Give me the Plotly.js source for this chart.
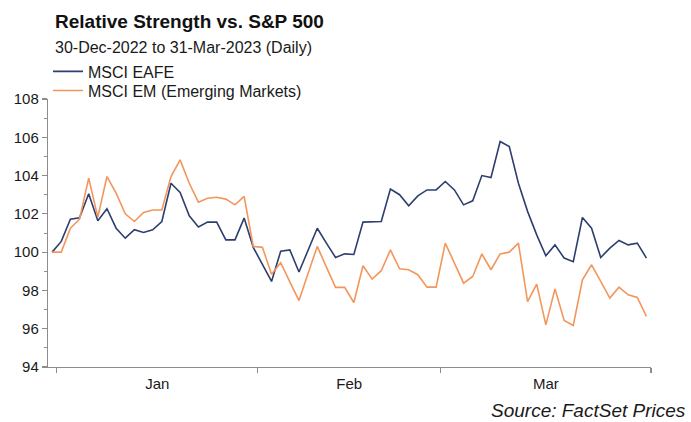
<!DOCTYPE html>
<html>
<head>
<meta charset="utf-8">
<script src="https://cdn.plot.ly/plotly-3.0.1.min.js"></script>
<style>html,body{margin:0;padding:0;background:#fff;}#chart{width:691px;height:422px;}</style>
</head>
<body>
<div id="chart"></div>
<script>
// Trading days (weekdays) 30-Dec-2022 .. 31-Mar-2023
const dates = [
  '2022-12-30',
  '2023-01-02','2023-01-03','2023-01-04','2023-01-05','2023-01-06',
  '2023-01-09','2023-01-10','2023-01-11','2023-01-12','2023-01-13',
  '2023-01-16','2023-01-17','2023-01-18','2023-01-19','2023-01-20',
  '2023-01-23','2023-01-24','2023-01-25','2023-01-26','2023-01-27',
  '2023-01-30','2023-01-31',
  '2023-02-01','2023-02-02','2023-02-03',
  '2023-02-06','2023-02-07','2023-02-08','2023-02-09','2023-02-10',
  '2023-02-13','2023-02-14','2023-02-15','2023-02-16','2023-02-17',
  '2023-02-20','2023-02-21','2023-02-22','2023-02-23','2023-02-24',
  '2023-02-27','2023-02-28',
  '2023-03-01','2023-03-02','2023-03-03',
  '2023-03-06','2023-03-07','2023-03-08','2023-03-09','2023-03-10',
  '2023-03-13','2023-03-14','2023-03-15','2023-03-16','2023-03-17',
  '2023-03-20','2023-03-21','2023-03-22','2023-03-23','2023-03-24',
  '2023-03-27','2023-03-28','2023-03-29','2023-03-30','2023-03-31'
];

const eafe = [
  100.0, 100.56, 101.72, 101.8, 103.05, 101.64, 102.27, 101.25, 100.73, 101.17,
  101.03, 101.17, 101.6, 103.6, 103.12, 101.9, 101.31, 101.57, 101.57, 100.64,
  100.64, 101.78, 100.25, 99.34, 98.47, 100.05, 100.12, 98.96, 100.1, 101.25,
  100.47, 99.72, 99.91, 99.88, 101.57, 101.57, 101.6, 103.3, 103.0, 102.42,
  102.94, 103.25, 103.25, 103.69, 103.25, 102.47, 102.68, 104.0, 103.9, 105.78,
  105.52, 103.6, 102.13, 100.9, 99.81, 100.38, 99.69, 99.5, 101.81, 101.25,
  99.72, 100.21, 100.61, 100.38, 100.47, 99.69
];

const em = [
  100.0, 100.0, 101.25, 101.72, 103.87, 101.83, 103.95, 103.08, 102.0, 101.6,
  102.07, 102.2, 102.2, 103.95, 104.82, 103.6, 102.61, 102.82, 102.87, 102.77,
  102.47, 102.91, 100.3, 100.25, 98.85, 99.45, 98.45, 97.47, 98.9, 100.3,
  99.22, 98.16, 98.16, 97.37, 99.29, 98.59, 99.03, 100.12, 99.13, 99.08,
  98.82, 98.17, 98.17, 100.47, 99.43, 98.38, 98.73, 99.91, 99.08, 99.91,
  100.0, 100.47, 97.42, 98.33, 96.2, 98.08, 96.43, 96.17, 98.55, 99.34,
  98.47, 97.6, 98.17, 97.77, 97.63, 96.64
];

const seriesNames = ['MSCI EAFE', 'MSCI EM (Emerging Markets)'];
const monthKeys = ['2023-01', '2023-02', '2023-03'];
const monthLabels = ['Jan', 'Feb', 'Mar'];
const yTicks = [94, 96, 98, 100, 102, 104, 106, 108];

// positions of trading days along the axis (one slot per weekday)
const xIdx = dates.map((d, i) => i);

// month boundaries (between trading-day slots) and month centres
const bounds = [];
const centres = [];
monthKeys.forEach(k => {
  const first = dates.findIndex(d => d.startsWith(k));
  let last = -1;
  dates.forEach((d, i) => { if (d.startsWith(k)) last = i; });
  bounds.push(first - 0.5);
  centres.push((first - 0.5 + last + 0.5) / 2);
});
bounds.push(dates.length - 0.5);

const FONT = 'Arial, "Liberation Sans", sans-serif';

const traces = [
  {x: xIdx, y: eafe, customdata: dates, name: seriesNames[0], type: 'scatter', mode: 'lines',
   legend: 'legend',
   line: {color: '#2E3F6E', width: 1.6}, hovertemplate: '%{customdata}: %{y}<extra></extra>'},
  {x: xIdx, y: em, customdata: dates, name: seriesNames[1], type: 'scatter', mode: 'lines',
   legend: 'legend2',
   line: {color: '#F3965C', width: 1.6}, hovertemplate: '%{customdata}: %{y}<extra></extra>'}
];

const legendBase = {x: 0, xanchor: 'left', yanchor: 'top', bgcolor: 'rgba(0,0,0,0)',
                    font: {family: FONT, size: 16, color: '#1a1a1a'}};

const layout = {
  width: 691, height: 422,
  margin: {l: 48, r: 40, t: 99, b: 55},
  paper_bgcolor: '#fff', plot_bgcolor: '#fff',
  font: {family: FONT, size: 15, color: '#1a1a1a'},
  showlegend: true,
  legend: Object.assign({}, legendBase, {y: 1.166}),
  legend2: Object.assign({}, legendBase, {y: 1.095}),
  xaxis: {
    type: 'linear', range: [-0.45, dates.length - 0.5],
    showgrid: false, zeroline: false, showline: true, linecolor: '#8c8c8c', linewidth: 1.2,
    tickmode: 'array', tickvals: centres, ticktext: monthLabels, ticks: '',
    ticklabelstandoff: 3,
    tickfont: {family: FONT, size: 15, color: '#1a1a1a'},
    minor: {tickmode: 'array', tickvals: bounds, ticks: 'outside', ticklen: 5, tickcolor: '#8c8c8c', tickwidth: 1.2, showgrid: false},
    fixedrange: true
  },
  yaxis: {
    range: [94, 108], showgrid: false, zeroline: false, showline: true, linecolor: '#8c8c8c', linewidth: 1.2,
    tickmode: 'array', tickvals: yTicks, ticks: 'outside', ticklen: 5, tickcolor: '#8c8c8c', tickwidth: 1.2,
    tickfont: {family: FONT, size: 15, color: '#1a1a1a'},
    minor: {dtick: 1, ticks: 'outside', ticklen: 3, tickcolor: '#8c8c8c', tickwidth: 1, showgrid: false},
    fixedrange: true
  },
  annotations: [
    {text: '<b>Relative Strength vs. S&P 500</b>', xref: 'paper', yref: 'paper', x: 0.008, y: 1.288,
     xanchor: 'left', yanchor: 'middle', showarrow: false, font: {family: FONT, size: 19, color: '#111'}},
    {text: '30-Dec-2022 to 31-Mar-2023 (Daily)', xref: 'paper', yref: 'paper', x: 0.008, y: 1.192,
     xanchor: 'left', yanchor: 'middle', showarrow: false, font: {family: FONT, size: 16, color: '#1a1a1a'}},
    {text: '<i>Source: FactSet Prices</i>', xref: 'paper', yref: 'paper', x: 1.0614, y: -0.163,
     xanchor: 'right', yanchor: 'middle', showarrow: false, font: {family: FONT, size: 19, color: '#1a1a1a'}}
  ]
};

Plotly.newPlot('chart', traces, layout, {displayModeBar: false, staticPlot: true});
</script>
</body>
</html>
